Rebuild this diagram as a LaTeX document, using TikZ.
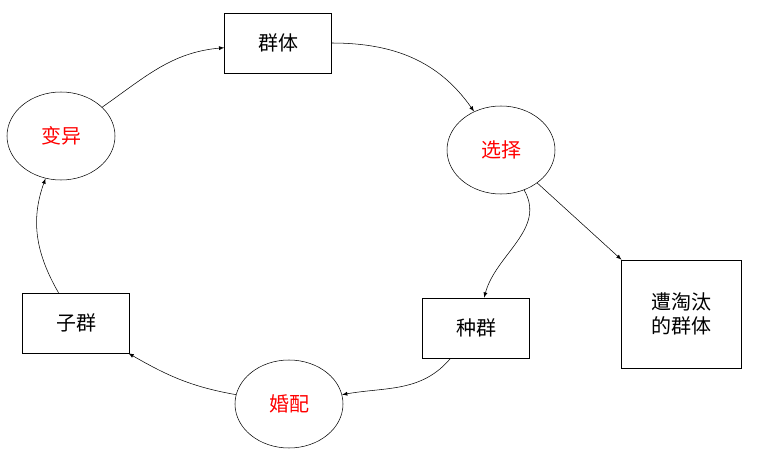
\documentclass[tikz,border=0pt]{standalone}
\usepackage{fontspec}
\setmainfont{Noto Sans CJK SC}
\usetikzlibrary{shapes.geometric}
\begin{document}
\begin{tikzpicture}[x=0.75pt,y=-0.75pt,
  box/.style={draw,minimum width=80pt,minimum height=45pt,font=\fontsize{15}{18}\selectfont},
  oval/.style={draw,ellipse,minimum width=81pt,minimum height=66pt,text=red,font=\fontsize{15}{18}\selectfont},
  link/.style={-latex,thin}]
  \useasboundingbox (0,0) rectangle (758,449);

  \node[box] (qunti) at (278,43) {群体};
  \node[oval] (bianyi) at (61,136) {变异};
  \node[oval] (xuanze) at (501,150) {选择};
  \node[box,minimum width=90pt,minimum height=81pt,align=center] (taotai) at (681,314) {遭淘汰\\的群体};
  \node[box] (zhongqun) at (476,328) {种群};
  \node[oval] (hunpei) at (289,404) {婚配};
  \node[box] (ziqun) at (76,323) {子群};

  \draw[link] (bianyi) to[out=35,in=185] (qunti);
  \draw[link] (qunti) to[out=0,in=125] (xuanze);
  \draw[link] (xuanze) to[out=-60,in=75] (zhongqun);
  \draw[link] (zhongqun) to[out=-130,in=10] (hunpei);
  \draw[link] (hunpei) to[out=170,in=-30] (ziqun);
  \draw[link] (ziqun) to[out=120,in=-110] (bianyi);
  \draw[link] (xuanze) -- (taotai);
\end{tikzpicture}
\end{document}
